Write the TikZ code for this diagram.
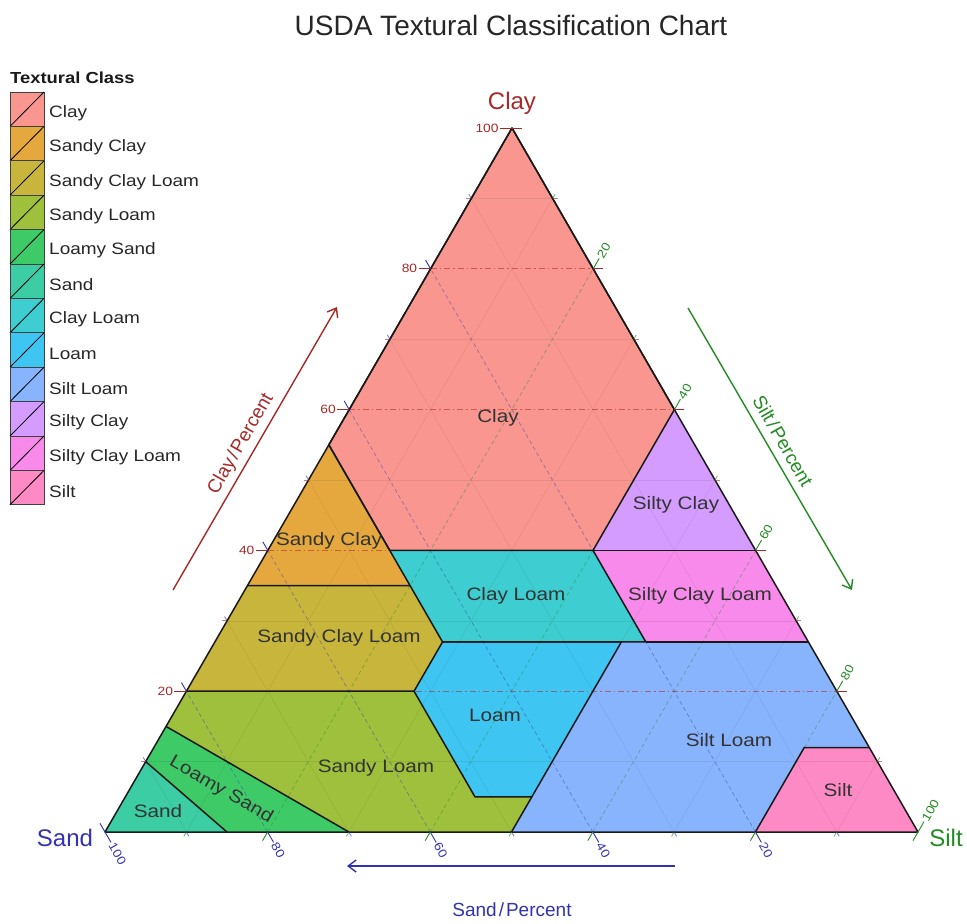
\documentclass[tikz,border=0pt]{standalone}
\usepackage{fontspec}
\setmainfont{Liberation Sans}
\newfontfamily\lab[FakeStretch=1.15]{Liberation Sans}
\usetikzlibrary{arrows.meta,calc}
\definecolor{cClay}{HTML}{F9968F}
\definecolor{cSandyClay}{HTML}{E5A83E}
\definecolor{cSandyClayLoam}{HTML}{C8B53C}
\definecolor{cSandyLoam}{HTML}{9EC03C}
\definecolor{cLoamySand}{HTML}{3FCA68}
\definecolor{cSand}{HTML}{3CCDA5}
\definecolor{cClayLoam}{HTML}{3ECDD0}
\definecolor{cLoam}{HTML}{3EC5F2}
\definecolor{cSiltLoam}{HTML}{88B4FE}
\definecolor{cSiltyClay}{HTML}{D49CFE}
\definecolor{cSiltyClayLoam}{HTML}{F78AEA}
\definecolor{cSilt}{HTML}{FD8AC4}
\definecolor{axClay}{HTML}{A82828}
\definecolor{axSand}{HTML}{3232B0}
\definecolor{axSilt}{HTML}{228B22}
\newcommand\TX[3]{1.05*(#1)+9.18*(#2)+5.12*(#3)}
\newcommand\TY[1]{832-7.04*(#1)}
\begin{document}
\begin{tikzpicture}[x=1pt,y=-1pt,
  reg/.style={draw=black!90, line width=1.5pt, line join=round},
  rlab/.style={font=\lab\fontsize{18}{20}\selectfont, text=black!80},
  minorgrid/.style={draw=black, opacity=0.07, line width=0.6pt},
  gclay/.style={draw=axClay!80!red, opacity=0.55, line width=0.7pt, dash pattern=on 6pt off 3pt on 1.5pt off 3pt},
  gsand/.style={draw=axSand, opacity=0.45, line width=0.7pt, dash pattern=on 4pt off 3pt},
  gsilt/.style={draw=axSilt, opacity=0.45, line width=0.7pt, dash pattern=on 4pt off 3pt},
  tk/.style={line width=0.9pt},
  ticklab/.style={font=\lab\fontsize{12}{13}\selectfont, inner sep=1pt},
  legtxt/.style={font=\lab\fontsize{16.5}{18}\selectfont, text=black!85, anchor=west, inner sep=0pt},
  axarrow/.style={line width=1.4pt, -{Straight Barb[length=8pt,width=12pt]}},
  axtitle/.style={font=\fontsize{19}{21}\selectfont, inner sep=0pt}]
\useasboundingbox (0,0) rectangle (967,924);
\coordinate (A) at (105,832);
\coordinate (B) at (918,832);
\coordinate (C) at (512,128);
% key points (sand, silt, clay)
\foreach \n/\a/\b/\c in {p1/45/0/55, p3/0/40/60, p4/20/40/40, p5/45/15/40, p6/45/20/35,
  p7/65/0/35, p8/45/28/27, p9/52/28/20, p10/80/0/20, p11/52/43/5, p12/45/50/5, p13/50/50/0,
  p14/70/30/0, p15/85/0/15, p16/85/15/0, p17/90/0/10, p19/20/53/27, p20/0/60/40, p21/0/73/27,
  p22/23/50/27, p23/0/88/12, p24/8/80/12, p25/20/80/0}
  \coordinate (\n) at ({\TX{\a}{\b}{\c}},{\TY{\c}});
% regions
\fill[cClay] (p1) -- (C) -- (p3) -- (p4) -- (p5) -- cycle;
\fill[cSandyClay] (p1) -- (p6) -- (p7) -- cycle;
\fill[cSandyClayLoam] (p7) -- (p6) -- (p8) -- (p9) -- (p10) -- cycle;
\fill[cSandyLoam] (p10) -- (p9) -- (p11) -- (p12) -- (p13) -- (p14) -- (p15) -- cycle;
\fill[cLoam] (p8) -- (p22) -- (p12) -- (p11) -- (p9) -- cycle;
\fill[cLoamySand] (p15) -- (p14) -- (p16) -- (p17) -- cycle;
\fill[cSand] (A) -- (p17) -- (p16) -- cycle;
\fill[cClayLoam] (p5) -- (p4) -- (p19) -- (p8) -- cycle;
\fill[cSiltyClayLoam] (p4) -- (p20) -- (p21) -- (p19) -- cycle;
\fill[cSiltyClay] (p3) -- (p20) -- (p4) -- cycle;
\fill[cSiltLoam] (p22) -- (p21) -- (p23) -- (p24) -- (p25) -- (p13) -- (p12) -- cycle;
\fill[cSilt] (p25) -- (p24) -- (p23) -- (B) -- cycle;
% grid
\foreach \k in {10,30,50,70,90} {
  \pgfmathsetmacro\m{100-\k}
  \draw[minorgrid] ({\TX{\m}{0}{\k}},{\TY{\k}}) -- ({\TX{0}{\m}{\k}},{\TY{\k}});
  \draw[minorgrid] ({\TX{\k}{\m}{0}},{\TY{0}}) -- ({\TX{\k}{0}{\m}},{\TY{\m}});
  \draw[minorgrid] ({\TX{\m}{\k}{0}},{\TY{0}}) -- ({\TX{0}{\k}{\m}},{\TY{\m}});
}
\foreach \k in {20,40,60,80} {
  \pgfmathsetmacro\m{100-\k}
  \draw[gclay] ({\TX{\m}{0}{\k}},{\TY{\k}}) -- ({\TX{0}{\m}{\k}},{\TY{\k}});
  \draw[gsand] ({\TX{\k}{\m}{0}},{\TY{0}}) -- ({\TX{\k}{0}{\m}},{\TY{\m}});
  \draw[gsilt] ({\TX{\m}{\k}{0}},{\TY{0}}) -- ({\TX{0}{\k}{\m}},{\TY{\m}});
}
% borders
\draw[reg] (p1) -- (C) -- (p3) -- (p4) -- (p5) -- cycle;
\draw[reg] (p1) -- (p6) -- (p7);
\draw[reg] (p6) -- (p8) -- (p9) -- (p10);
\draw[reg] (p9) -- (p11) -- (p12) -- (p13);
\draw[reg] (p8) -- (p22) -- (p12);
\draw[reg] (p15) -- (p14);
\draw[reg] (p17) -- (p16);
\draw[reg] (p4) -- (p19) -- (p8);
\draw[reg] (p20) -- (p4);
\draw[reg] (p19) -- (p21);
\draw[reg] (p23) -- (p24) -- (p25);
\draw[reg] (A) -- (B) -- (C) -- cycle;
% major ticks and labels
\foreach \k in {20,40,60,80,100} {
  \pgfmathsetmacro\m{100-\k}
  \draw[tk, axClay] ({\TX{\m}{0}{\k}},{\TY{\k}}) -- ++(-12,0) node[ticklab, anchor=east, text=axClay] {\k};
  \draw[tk, axClay] ({\TX{0}{\m}{\k}},{\TY{\k}}) -- ++(10,0);
  \draw[tk, axSand] ({\TX{\k}{\m}{0}},{\TY{0}}) -- ++(6,10.4) node[ticklab, anchor=west, rotate=-60, text=axSand] {\k};
  \draw[tk, axSand] ({\TX{\k}{0}{\m}},{\TY{\m}}) -- ++(-5,-8.66);
  \draw[tk, axSilt] ({\TX{0}{\k}{\m}},{\TY{\m}}) -- ++(6,-10.4) node[ticklab, anchor=west, rotate=60, text=axSilt] {\k};
  \draw[tk, axSilt] ({\TX{\m}{\k}{0}},{\TY{0}}) -- ++(-5,8.66);
}
% minor ticks
\foreach \k in {10,30,50,70,90} {
  \pgfmathsetmacro\m{100-\k}
  \draw[tk, axClay, opacity=0.6] ({\TX{\m}{0}{\k}},{\TY{\k}}) -- ++(-5,0);
  \draw[tk, axClay, opacity=0.6] ({\TX{0}{\m}{\k}},{\TY{\k}}) -- ++(5,0);
  \draw[tk, axSand, opacity=0.6] ({\TX{\k}{\m}{0}},{\TY{0}}) -- ++(2.5,4.33);
  \draw[tk, axSand, opacity=0.6] ({\TX{\k}{0}{\m}},{\TY{\m}}) -- ++(-2.5,-4.33);
  \draw[tk, axSilt, opacity=0.6] ({\TX{0}{\k}{\m}},{\TY{\m}}) -- ++(2.5,-4.33);
  \draw[tk, axSilt, opacity=0.6] ({\TX{\m}{\k}{0}},{\TY{0}}) -- ++(-2.5,4.33);
}
% region labels
\node[rlab] (lClay) at (498,418) {Clay};
\node[rlab] (lSandyClay) at (329,541) {Sandy Clay};
\node[rlab] (lSandyClayLoam) at (339,638) {Sandy Clay Loam};
\node[rlab] (lSandyLoam) at (376,768) {Sandy Loam};
\node[rlab, rotate=-30] (lLoamySand) at (221,790) {Loamy Sand};
\node[rlab] (lSand) at (158,811) {Sand};
\node[rlab] (lClayLoam) at (516,596) {Clay Loam};
\node[rlab] (lLoam) at (495,715) {Loam};
\node[rlab] (lSiltLoam) at (729,740) {Silt Loam};
\node[rlab] (lSiltyClay) at (676,505) {Silty Clay};
\node[rlab] (lSiltyClayLoam) at (700,596) {Silty Clay Loam};
\node[rlab] (lSilt) at (838,790) {Silt};
% vertex labels
\node[font=\fontsize{24}{26}\selectfont, text=axClay] (vClay) at (512,103) {Clay};
\node[font=\fontsize{24}{26}\selectfont, text=axSand] (vSand) at (65,838) {Sand};
\node[font=\fontsize{24}{26}\selectfont, text=axSilt] (vSilt) at (946,838) {Silt};
% axis arrows
\coordinate (ca1) at (173,590); \coordinate (ca2) at (337,307);
\coordinate (ta1) at (688,308); \coordinate (ta2) at (852,590);
\coordinate (sa1) at (675,866); \coordinate (sa2) at (347,866);
\draw[axarrow, axClay] (ca1) -- (ca2);
\draw[axarrow, axSilt] (ta1) -- (ta2);
\draw[axarrow, axSand] (sa1) -- (sa2);
\node[axtitle, text=axClay, rotate=60] (tClay) at (241,444) {Clay\hspace{2pt}/\hspace{2pt}Percent};
\node[axtitle, text=axSilt, rotate=-60] (tSilt) at (783,441) {Silt\hspace{2pt}/\hspace{2pt}Percent};
\node[axtitle, text=axSand] (tSand) at (512,910) {Sand\hspace{2pt}/\hspace{2pt}Percent};
% title
\node[font=\fontsize{28}{30}\selectfont, text=black!85] (title) at (511,25) {USDA Textural Classification Chart};
% legend
\node[font=\lab\bfseries\fontsize{16}{18}\selectfont, anchor=west, inner sep=0pt, text=black!90] (legtitle) at (10,78) {Textural Class};
\foreach \i/\col/\txt in {0/cClay/Clay, 1/cSandyClay/Sandy Clay, 2/cSandyClayLoam/Sandy Clay Loam,
  3/cSandyLoam/Sandy Loam, 4/cLoamySand/Loamy Sand, 5/cSand/Sand, 6/cClayLoam/Clay Loam,
  7/cLoam/Loam, 8/cSiltLoam/Silt Loam, 9/cSiltyClay/Silty Clay, 10/cSiltyClayLoam/Silty Clay Loam,
  11/cSilt/Silt} {
  \pgfmathsetmacro\yt{92+34.4*\i}
  \pgfmathsetmacro\yb{\yt+34.4}
  \filldraw[fill=\col, draw=black!75, line width=0.7pt] (10,\yt) rectangle (44,\yb);
  \draw[line width=0.8pt] (10,\yb) -- (44,\yt);
  \node[legtxt] (leg\i) at (49,\yt+21) {\txt};
}
\end{tikzpicture}
\end{document}
